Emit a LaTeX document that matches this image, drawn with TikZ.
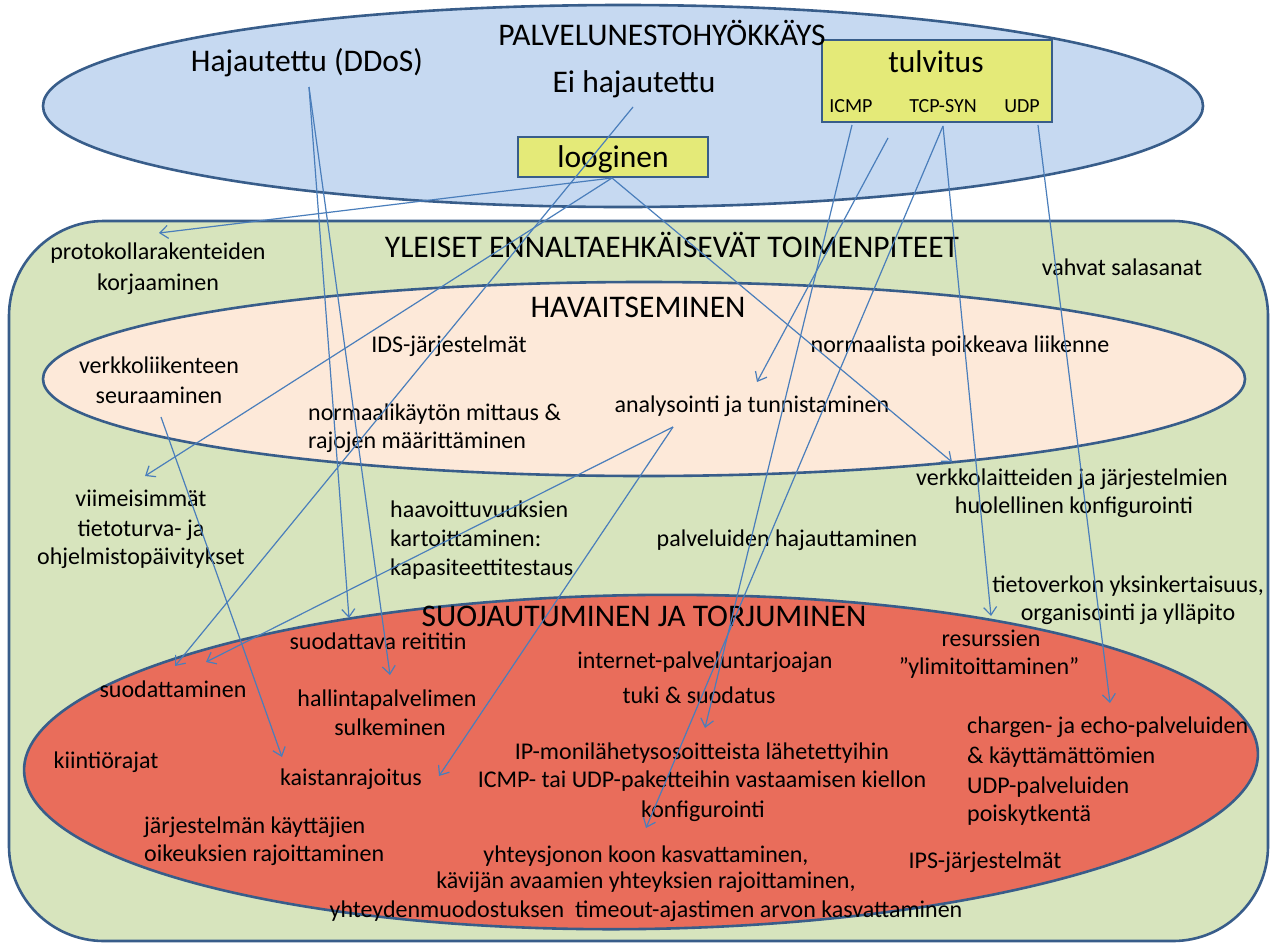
\documentclass[tikz,border=0pt]{standalone}
\usepackage{fontspec}
\setmainfont{Carlito}
\usetikzlibrary{arrows.meta}
\definecolor{edgeblue}{HTML}{385D8A}
\definecolor{linkblue}{HTML}{4A7EBB}
\definecolor{skyfill}{HTML}{C6D9F1}
\definecolor{leaffill}{HTML}{D7E4BD}
\definecolor{peachfill}{HTML}{FDE9D9}
\definecolor{redfill}{HTML}{E96D5B}
\definecolor{tagyellow}{HTML}{E4EA78}

\begin{document}
\begin{tikzpicture}[x=1pt,y=-1pt,
  txt/.style={font=\fontsize{24}{29}\selectfont, inner sep=0pt, anchor=base},
  txtl/.style={txt, anchor=base west},
  head/.style={font=\fontsize{31.5}{37}\selectfont, inner sep=0pt, anchor=base},
  small/.style={font=\fontsize{20}{24}\selectfont, inner sep=0pt, anchor=base},
  frame/.style={draw=edgeblue, line width=2.6pt},
  tag/.style={frame, fill=tagyellow, inner sep=0pt},
  link/.style={draw=linkblue, line width=1.2pt, -{Straight Barb[length=8pt,width=13pt]}}]

\useasboundingbox (0,0) rectangle (1272,943);
\fill[white] (0,0) rectangle (1272,943);

% --- areas ---
\draw[frame, fill=skyfill] (623,106) ellipse [x radius=580, y radius=101];
\draw[frame, fill=leaffill, rounded corners=95pt] (9,221) rectangle (1268,941);
\draw[frame, fill=peachfill] (644,379) ellipse [x radius=601, y radius=97];
\draw[frame, fill=redfill, rotate around={0.8:(641,762)}] (641,762) ellipse [x radius=617, y radius=167];

% --- attack type boxes ---
\node[tag, minimum width=230pt, minimum height=82pt] (floodbox) at (937,81) {};
\node[tag, minimum width=190pt, minimum height=40pt] (logicbox) at (613,157) {};

% --- attack types ---
\node[head] (attack) at (662,45) {PALVELUNESTOHYÖKKÄYS};
\node[head] (ddos) at (307,71) {Hajautettu (DDoS)};
\node[head] (single) at (634,92) {Ei hajautettu};
\node[head] (flood) at (936,72) {tulvitus};
\node[small] (icmp) at (851,112) {ICMP};
\node[small] (tcpsyn) at (943,112) {TCP-SYN};
\node[small] (udp) at (1022,112) {UDP};
\node[head] (logic) at (613,167) {looginen};

% --- general preventive measures ---
\node[head] (general) at (672,257) {YLEISET ENNALTAEHKÄISEVÄT TOIMENPITEET};
\node[txt] (proto1) at (158,259) {protokollarakenteiden};
\node[txt] (proto2) at (158,290) {korjaaminen};
\node[txt] (passw) at (1122,275) {vahvat salasanat};
\node[txt] (config1) at (1072,485) {verkkolaitteiden ja järjestelmien};
\node[txt] (config2) at (1074,513) {huolellinen konfigurointi};
\node[txt] (updates1) at (141,506) {viimeisimmät};
\node[txt] (updates2) at (141,536) {tietoturva- ja};
\node[txt] (updates3) at (141,564) {ohjelmistopäivitykset};
\node[txtl] (vuln1) at (390,517) {haavoittuvuuksien};
\node[txtl] (vuln2) at (390,546) {kartoittaminen:};
\node[txtl] (vuln3) at (390,575) {kapasiteettitestaus};
\node[txt] (spread) at (787,546) {palveluiden hajauttaminen};
\node[txt] (simple1) at (1128,592) {tietoverkon yksinkertaisuus,};
\node[txt] (simple2) at (1128,620) {organisointi ja ylläpito};

% --- detection ---
\node[head] (detect) at (638,317) {HAVAITSEMINEN};
\node[txt] (ids) at (449,352) {IDS-järjestelmät};
\node[txt] (monitor1) at (159,373) {verkkoliikenteen};
\node[txt] (monitor2) at (159,403) {seuraaminen};
\node[txtl] (usage1) at (308,420) {normaalikäytön mittaus \&};
\node[txtl] (usage2) at (308,448) {rajojen määrittäminen};
\node[txt] (analysis) at (752,412) {analysointi ja tunnistaminen};
\node[txt] (anomaly) at (960,352) {normaalista poikkeava liikenne};

% --- protection and mitigation ---
\node[head] (defend) at (644,626) {SUOJAUTUMINEN JA TORJUMINEN};
\node[txt] (router) at (378,649) {suodattava reititin};
\node[txt] (filter) at (173,697) {suodattaminen};
\node[txt] (mgmt1) at (387,706) {hallintapalvelimen};
\node[txt] (mgmt2) at (390,735) {sulkeminen};
\node[txt] (isp1) at (705,668) {internet-palveluntarjoajan};
\node[txt] (isp2) at (699,703) {tuki \& suodatus};
\node[txt] (overprov1) at (991,646) {resurssien};
\node[txt] (overprov2) at (989,674) {”ylimitoittaminen”};
\node[txt] (quota) at (106,768) {kiintiörajat};
\node[txt] (bwlimit) at (351,785) {kaistanrajoitus};
\node[txt] (mcast1) at (702,759) {IP-monilähetysosoitteista lähetettyihin};
\node[txt] (mcast2) at (702,787) {ICMP- tai UDP-paketteihin vastaamisen kiellon};
\node[txt] (mcast3) at (703,817) {konfigurointi};
\node[txtl] (rights1) at (144,833) {järjestelmän käyttäjien};
\node[txtl] (rights2) at (144,861) {oikeuksien rajoittaminen};
\node[txt] (queue1) at (646,862) {yhteysjonon koon kasvattaminen,};
\node[txt] (queue2) at (646,888) {kävijän avaamien yhteyksien rajoittaminen,};
\node[txt] (queue3) at (646,917) {yhteydenmuodostuksen\ \ timeout-ajastimen arvon kasvattaminen};
\node[txt] (ips) at (985,868) {IPS-järjestelmät};
\node[txtl] (chargen1) at (967,733) {chargen- ja echo-palveluiden};
\node[txtl] (chargen2) at (967,763) {\& käyttämättömien};
\node[txtl] (chargen3) at (967,793) {UDP-palveluiden};
\node[txtl] (chargen4) at (967,821) {poiskytkentä};

% --- connector ends ---
\coordinate (ddos-foot) at (309,87);
\coordinate (single-foot) at (633,107);
\coordinate (logic-foot) at (612,178);
\coordinate (icmp-foot) at (852,125);
\coordinate (flood-below) at (888,138);
\coordinate (tcp-foot) at (943,126);
\coordinate (udp-foot) at (1038,125);
\coordinate (analysis-foot) at (673,427);
\coordinate (monitor-foot) at (161,417);

\coordinate (router-in) at (349,618);
\coordinate (mgmt-in) at (390,675);
\coordinate (filter-in-a) at (175,666);
\coordinate (filter-in-b) at (206,662);
\coordinate (proto-in) at (159,233);
\coordinate (updates-in) at (145,476);
\coordinate (config-in) at (952,462);
\coordinate (isp-in) at (705,728);
\coordinate (analysis-in) at (757,382);
\coordinate (mcast-in) at (646,828);
\coordinate (overprov-in) at (991,616);
\coordinate (chargen-in) at (1110,703);
\coordinate (bwlimit-in-a) at (439,776);
\coordinate (bwlimit-in-b) at (282,757);

% --- connectors ---
\draw[link] (ddos-foot) -- (router-in);
\draw[link] (ddos-foot) -- (mgmt-in);
\draw[link] (single-foot) -- (filter-in-a);
\draw[link] (logic-foot) -- (proto-in);
\draw[link] (logic-foot) -- (updates-in);
\draw[link] (logic-foot) -- (config-in);
\draw[link] (icmp-foot) -- (isp-in);
\draw[link] (flood-below) -- (analysis-in);
\draw[link] (tcp-foot) -- (mcast-in);
\draw[link] (tcp-foot) -- (overprov-in);
\draw[link] (udp-foot) -- (chargen-in);
\draw[link] (analysis-foot) -- (filter-in-b);
\draw[link] (analysis-foot) -- (bwlimit-in-a);
\draw[link] (monitor-foot) -- (bwlimit-in-b);
\end{tikzpicture}
\end{document}
